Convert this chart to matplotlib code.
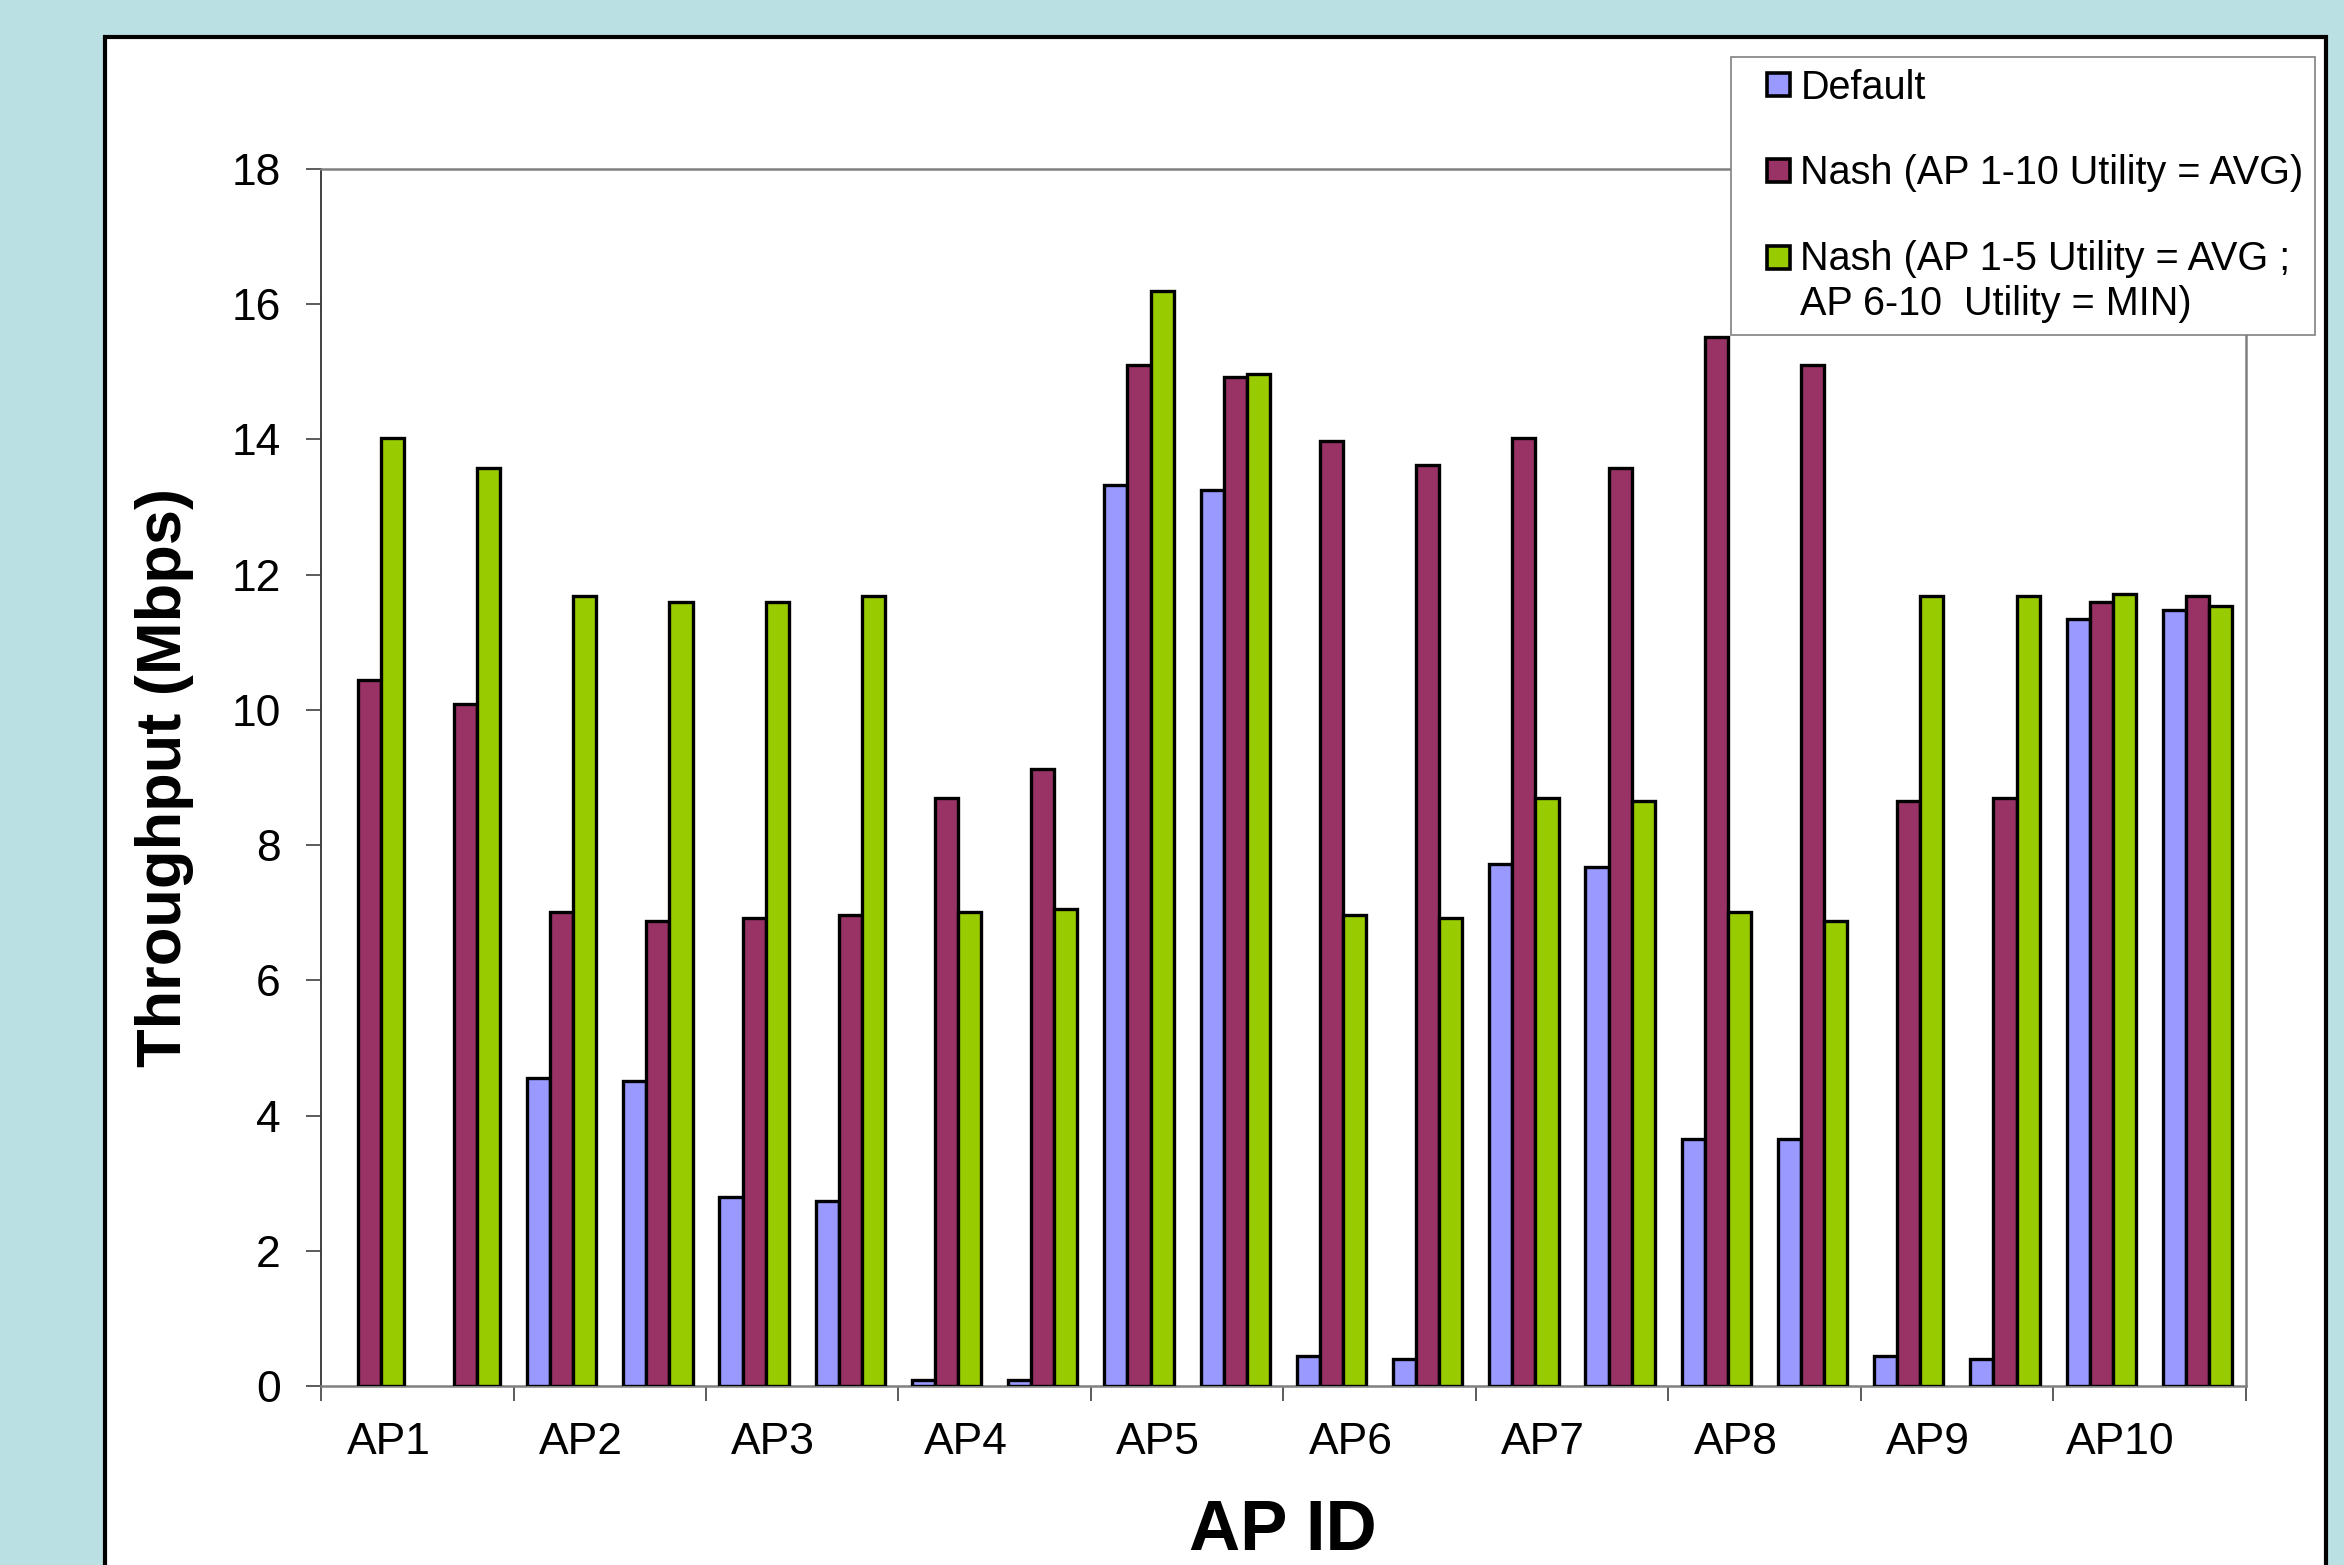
import numpy as np
from matplotlib import pyplot as plt
from matplotlib.patches import Rectangle
from matplotlib.container import BarContainer
from matplotlib.legend_handler import HandlerPatch

# throughput per AP (two runs per AP)
ap_labels = ['AP1', 'AP2', 'AP3', 'AP4', 'AP5', 'AP6', 'AP7', 'AP8', 'AP9', 'AP10']
default = [0, 0, 4.56, 4.51, 2.79, 2.74, 0.09, 0.09, 13.33, 13.25,
           0.44, 0.40, 7.72, 7.67, 3.65, 3.65, 0.44, 0.40, 11.34, 11.48]
nash_avg = [10.44, 10.08, 7.01, 6.88, 6.92, 6.97, 8.69, 9.13, 15.10, 14.93,
            13.98, 13.62, 14.02, 13.58, 15.52, 15.10, 8.65, 8.69, 11.59, 11.68]
nash_mix = [14.02, 13.58, 11.68, 11.59, 11.59, 11.68, 7.01, 7.05, 16.19, 14.97,
            6.97, 6.92, 8.69, 8.65, 7.01, 6.88, 11.68, 11.68, 11.72, 11.54]
series_names = ['Default',
                'Nash (AP 1-10 Utility = AVG)',
                'Nash (AP 1-5 Utility = AVG ;\nAP 6-10  Utility = MIN)']

plt.rcParams['font.family'] = ['Liberation Sans', 'DejaVu Sans']

fig = plt.figure(figsize=(23.44, 15.65), dpi=100, facecolor='#bbe0e3')

# white panel behind the chart
fig.patches.append(Rectangle((0.0448, -0.05), 0.9475, 0.9764 + 0.05, transform=fig.transFigure,
                             facecolor='white', edgecolor='black', linewidth=3, zorder=-5))

ax = fig.add_axes([0.137, 0.1144, 0.821, 0.7776])
ax.set_facecolor('white')

x = np.arange(len(default))
w = 0.24
colors = ['#9999ff', '#993366', '#99cc00']
for k, (vals, c, name) in enumerate(zip([default, nash_avg, nash_mix], colors, series_names)):
    lw = [0 if v == 0 else 2.4 for v in vals]
    ax.bar(x + (k - 1) * w, vals, width=w, color=c, edgecolor='black', linewidth=lw,
           label=name, zorder=3)

ax.set_xlim(-0.5, len(default) - 0.5)
ax.set_ylim(0, 18)
ax.set_yticks(range(0, 19, 2))
ax.tick_params(axis='y', direction='out', length=11, width=1.2, color='#404040',
               labelsize=32, pad=18)

# tick marks between AP pairs, labels sit on the first run of each pair
ax.set_xticks(np.arange(-0.5, len(default), 2))
ax.set_xticklabels([])
ax.tick_params(axis='x', which='major', direction='out', length=11, width=1.2, color='#404040')
ax.set_xticks(np.arange(len(ap_labels)) * 2 + 0.2, minor=True)
ax.set_xticklabels(ap_labels, minor=True)
ax.tick_params(axis='x', which='minor', length=0, labelsize=32, pad=26)

for s in ['top', 'right', 'bottom']:
    ax.spines[s].set_color('#808080')
    ax.spines[s].set_linewidth(1.8)
ax.spines['left'].set_color('#404040')
ax.spines['left'].set_linewidth(1.4)

ax.set_ylabel('Throughput (Mbps)', fontsize=45.5, fontweight='bold')
ax.yaxis.set_label_coords(-0.066, 0.5)
ax.set_xlabel('AP ID', fontsize=51, fontweight='bold')
ax.xaxis.set_label_coords(0.5, -0.093)


# legend squares: pushed right in the handle box, level with the first text line
def square(legend, orig_handle, xdescent, ydescent, width, height, fontsize):
    s = 0.58 * fontsize
    dy = 0.63 * fontsize if '\n' in orig_handle.get_label() else 0
    return Rectangle((-xdescent + width - s, -ydescent + (height - s) / 2 + dy), s, s)


def from_last(handle, orig):
    handle.update_from(orig.patches[-1])
    handle.set_linewidth(2.6)


leg = fig.legend(loc='upper left', bbox_to_anchor=(0.7385, 0.9636), fontsize=28.5,
                 frameon=True, fancybox=False, edgecolor='#808080', framealpha=1,
                 handlelength=1.2, handleheight=0.6, handletextpad=0.25,
                 labelspacing=1.2, borderpad=0.3, borderaxespad=0,
                 handler_map={BarContainer: HandlerPatch(patch_func=square, update_func=from_last)})
leg.get_texts()[2].set_linespacing(1.25)
leg.get_frame().set_linewidth(1.2)

fig.savefig('out.png', dpi=100, facecolor=fig.get_facecolor())
